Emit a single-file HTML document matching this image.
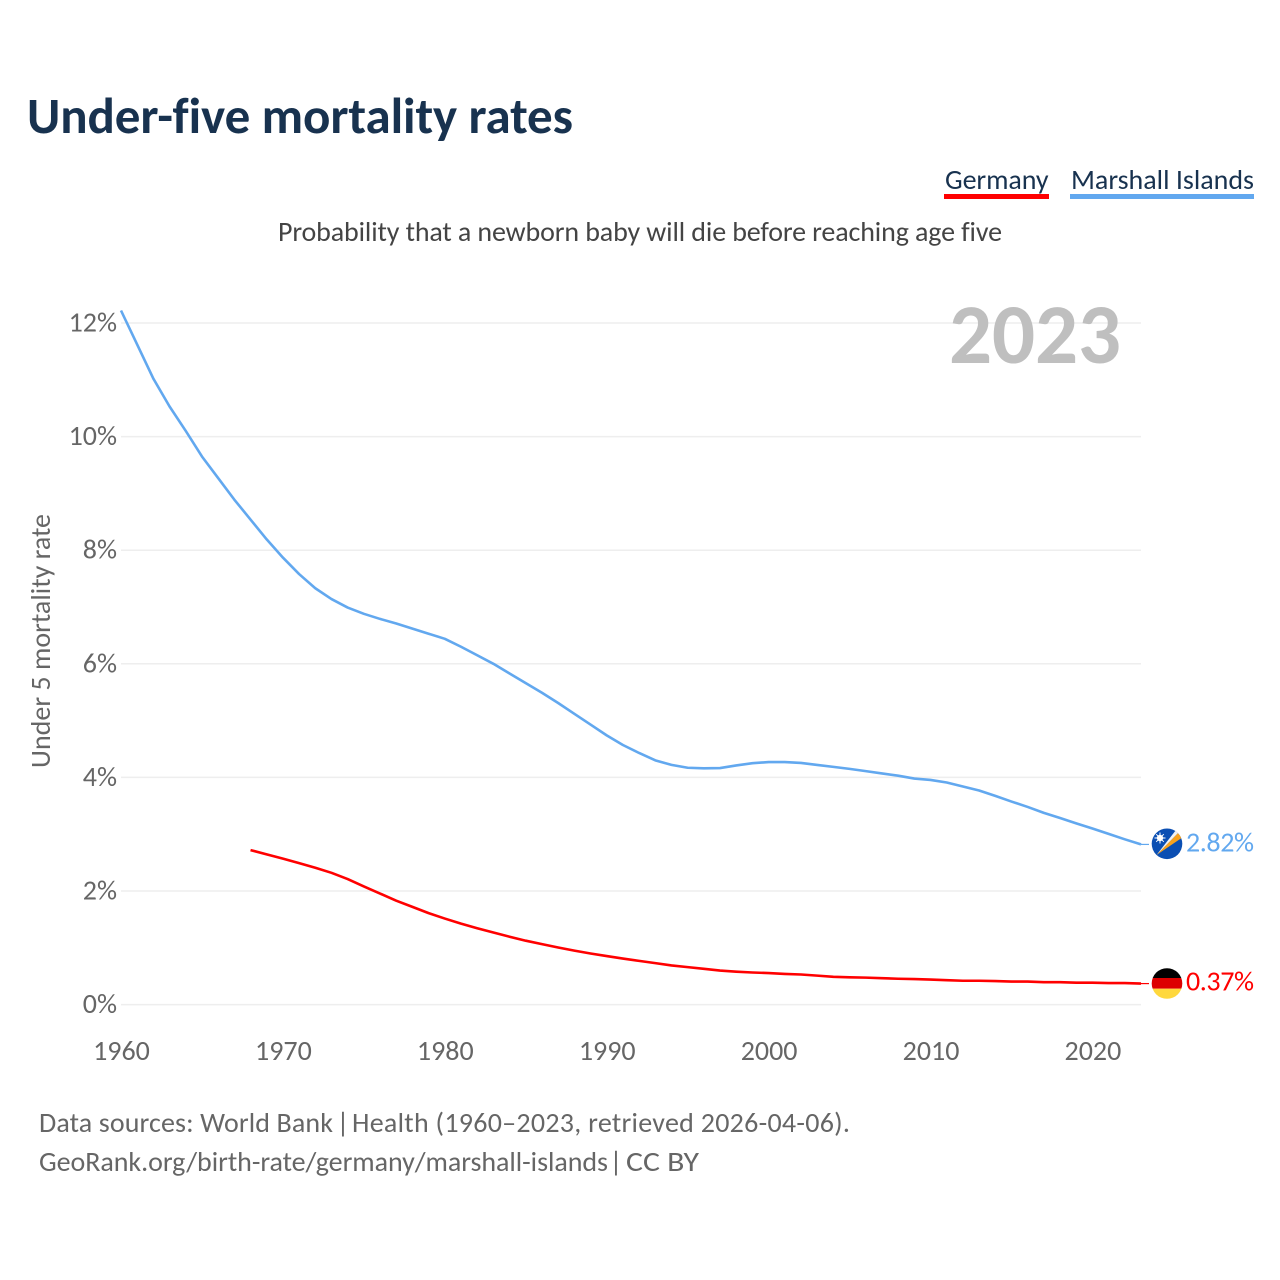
<!DOCTYPE html>
<html lang="en">
<head>
<meta charset="utf-8">
<title>Under-five mortality rates</title>
<style>
html,body{margin:0;padding:0;background:#fff;width:1280px;height:1280px;overflow:hidden}
svg{display:block}
text{font-family:"Carlito","Lato","Liberation Sans",sans-serif;font-variant-ligatures:none;font-feature-settings:"liga" 0,"clig" 0;text-rendering:optimizeSpeed}
</style>
</head>
<body>
<svg id="chart" xmlns="http://www.w3.org/2000/svg" width="1280" height="1280" viewBox="0 0 1280 1280">
  <rect width="1280" height="1280" fill="#fff"/>
  <text x="27" y="133" font-size="51" font-weight="700" fill="#18324f" textLength="546" lengthAdjust="spacing">Under-five mortality rates</text>

  <g>
    <text x="945" y="189" font-size="28" fill="#18324f" textLength="103.500" lengthAdjust="spacing">Germany</text>
    <rect x="944" y="194" width="105" height="5" fill="#ff0000"/>
  </g>
  <g>
    <text x="1071" y="189" font-size="28" fill="#18324f" textLength="183" lengthAdjust="spacing">Marshall Islands</text>
    <rect x="1070" y="194" width="184" height="5" fill="#62a8ef"/>
  </g>

  <text x="278" y="241" font-size="28" fill="#444" textLength="724" lengthAdjust="spacing">Probability that a newborn baby will die before reaching age five</text>

  <g id="grid"></g>
  <text x="949" y="363" font-size="85" font-weight="700" fill="#bfbfbf" textLength="172" lengthAdjust="spacing">2023</text>
  <g id="yticks"></g>
  <g id="xticks"></g>
  <text transform="translate(50,768) rotate(-90)" font-size="28" fill="#666" textLength="254" lengthAdjust="spacing">Under 5 mortality rate</text>

  <g id="series"></g>

  <defs>
    <clipPath id="flag-clip-mh"><circle cx="1167" cy="843.800" r="15.300"/></clipPath>
    <clipPath id="flag-clip-de"><circle cx="1167" cy="983.500" r="15.300"/></clipPath>
  </defs>
  <g clip-path="url(#flag-clip-mh)">
    <rect x="1151" y="828" width="32" height="32" fill="#0b4fb3"/>
    <polygon points="1156.500,855 1178,833 1183,830 1183,837" fill="#f7a21e"/>
    <polygon points="1156.500,855 1176,830 1182,829 1178,833" fill="#f2f2f2"/>
    <circle cx="1160" cy="838" r="3.200" fill="#fff"/>
    <path d="M1160 832.500V843.500M1154.500 838H1165.500M1156.200 834.200L1163.800 841.800M1163.800 834.200L1156.200 841.800" stroke="#fff" stroke-width="1"/>
  </g>
  <g clip-path="url(#flag-clip-de)">
    <rect x="1151" y="967" width="32" height="11" fill="#000"/>
    <rect x="1151" y="978" width="32" height="10.700" fill="#dd0000"/>
    <rect x="1151" y="988.700" width="32" height="11" fill="#ffd83d"/>
  </g>

  <g id="endlabels"></g>

  <g font-size="28" fill="#666">
    <text x="39" y="1132" textLength="294" lengthAdjust="spacing">Data sources: World Bank</text>
    <text x="336.500" y="1132">|</text>
    <text x="352" y="1132" textLength="498" lengthAdjust="spacing">Health (1960–2023, retrieved 2026-04-06).</text>
  </g>
  <g font-size="28" fill="#666">
    <text x="39" y="1171" textLength="569" lengthAdjust="spacing">GeoRank.org/birth-rate/germany/marshall-islands</text>
    <text x="609.500" y="1171">|</text>
    <text x="626" y="1171" textLength="73" lengthAdjust="spacingAndGlyphs">CC BY</text>
  </g>
</svg>

<script>
const firstYear = 1960;
const lastYear = 2023;
const yTickValues = [0, 2, 4, 6, 8, 10, 12];
const xTickYears = [1960, 1970, 1980, 1990, 2000, 2010, 2020];
const germanyStartYear = 1968;
const marshallStartYear = 1960;
const marshallValues = [
  12.22, 11.62, 11.02, 10.53, 10.10, 9.65, 9.27, 8.89, 8.54, 8.19,
  7.87, 7.58, 7.33, 7.14, 6.99, 6.88, 6.79, 6.71, 6.62, 6.53,
  6.44, 6.30, 6.15, 6.00, 5.83, 5.66, 5.49, 5.31, 5.12, 4.93,
  4.74, 4.57, 4.43, 4.30, 4.22, 4.17, 4.16, 4.165, 4.21, 4.25,
  4.27, 4.27, 4.255, 4.22, 4.185, 4.15, 4.11, 4.07, 4.03, 3.98,
  3.955, 3.91, 3.84, 3.77, 3.675, 3.575, 3.48, 3.375, 3.285, 3.19,
  3.10, 3.005, 2.91, 2.82
];
const germanyValues = [
  2.72, 2.645, 2.57, 2.49, 2.41, 2.32, 2.21, 2.08, 1.955, 1.83, 1.72, 1.61,
  1.515, 1.425, 1.345, 1.27, 1.195, 1.125, 1.065, 1.005, 0.95, 0.90, 0.855, 0.81,
  0.77, 0.73, 0.69, 0.66, 0.63, 0.60, 0.58, 0.565, 0.555, 0.54, 0.53, 0.51,
  0.49, 0.48, 0.475, 0.465, 0.455, 0.45, 0.44, 0.43, 0.42, 0.42, 0.415, 0.405,
  0.405, 0.395, 0.395, 0.385, 0.385, 0.38, 0.38, 0.37
];

const NS = 'http://www.w3.org/2000/svg';
const plotLeft = 121, plotRight = 1141, plotZero = 1004.6, pxPerUnit = 56.8;
const xScale = year => plotLeft + (year - firstYear) * (plotRight - plotLeft) / (lastYear - firstYear);
const yScale = value => plotZero - value * pxPerUnit;

function make(tag, attrs, parent, content) {
  const el = document.createElementNS(NS, tag);
  for (const k in attrs) el.setAttribute(k, attrs[k]);
  if (content !== undefined) el.textContent = content;
  parent.appendChild(el);
  return el;
}

const gridGroup = document.getElementById('grid');
const yTickGroup = document.getElementById('yticks');
yTickValues.forEach(v => {
  const line = make('line', {x1: plotLeft, x2: plotRight, y1: yScale(v), y2: yScale(v), stroke: '#eeeeee', 'stroke-width': 1.5}, gridGroup);
  
  
  const label = v + '%';
  const t = make('text', {x: 117, y: yScale(v) + 8.5, 'text-anchor': 'end', 'font-size': 28, fill: '#666'}, yTickGroup, label);
  
  
});

const xTickGroup = document.getElementById('xticks');
xTickYears.forEach(yr => {
  const t = make('text', {x: xScale(yr) + 0.5, y: 1060, 'text-anchor': 'middle', 'font-size': 28, fill: '#666'}, xTickGroup, String(yr));
  
  
});

const seriesGroup = document.getElementById('series');
const labelGroup = document.getElementById('endlabels');
function drawSeries(values, startYear, color, name) {
  const pts = values.map((v, i) => xScale(startYear + i).toFixed(2) + ',' + yScale(v).toFixed(2)).join(' ');
  const line = make('polyline', {points: pts, fill: 'none', stroke: color, 'stroke-width': 2.6, 'stroke-linejoin': 'round'}, seriesGroup);
  
  
  const last = values[values.length - 1];
  const leader = make('line', {x1: plotRight, x2: 1149, y1: yScale(last), y2: yScale(last), stroke: color, 'stroke-width': 1.2}, seriesGroup);
  
  
  const label = last.toFixed(2) + '%';
  const t = make('text', {x: 1186, y: yScale(last) + 7, 'font-size': 28, fill: color, textLength: 68, lengthAdjust: 'spacing'}, labelGroup, label);
  
  
}
drawSeries(marshallValues, marshallStartYear, '#62a8ef', 'marshall-islands');
drawSeries(germanyValues, germanyStartYear, '#ff0000', 'germany');
</script>
</body>
</html>
